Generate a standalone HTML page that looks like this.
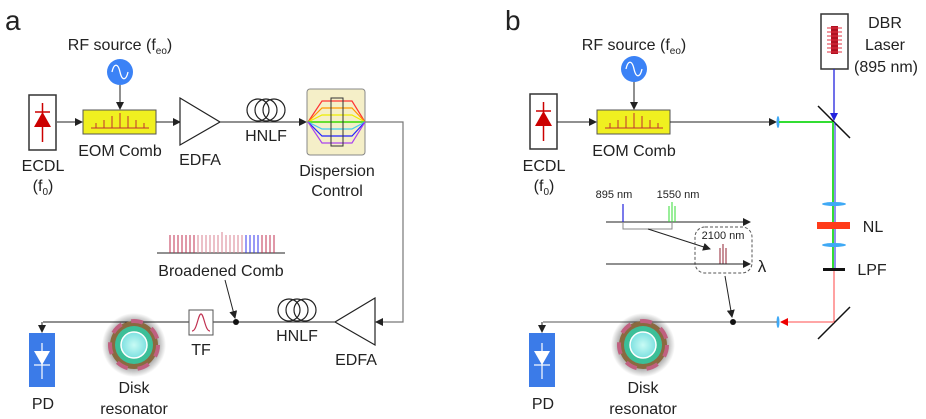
<!DOCTYPE html>
<html><head><meta charset="utf-8"><style>
html,body{margin:0;padding:0;background:#fff;}
svg{display:block;}
text{font-family:"Liberation Sans",sans-serif;fill:#222;}
</style></head><body>
<svg width="926" height="419" viewBox="0 0 926 419" xmlns="http://www.w3.org/2000/svg">
<defs>
<marker id="ar" markerWidth="8" markerHeight="8" refX="7" refY="4" orient="auto" markerUnits="userSpaceOnUse"><path d="M0,0 L8,4 L0,8 z" fill="#222"/></marker>
<marker id="arr" markerWidth="8" markerHeight="8" refX="7" refY="4" orient="auto" markerUnits="userSpaceOnUse"><path d="M0,0 L8,4 L0,8 z" fill="#e00"/></marker>
<marker id="arb" markerWidth="8" markerHeight="8" refX="7" refY="4" orient="auto" markerUnits="userSpaceOnUse"><path d="M0,0 L8,4 L0,8 z" fill="#22d"/></marker>
<radialGradient id="glow"><stop offset="0.6" stop-color="#000" stop-opacity="0.5"/><stop offset="1" stop-color="#000" stop-opacity="0"/></radialGradient>
<radialGradient id="inner"><stop offset="0" stop-color="#c8fbf5"/><stop offset="1" stop-color="#7de0e0"/></radialGradient>
<g id="ecdl"><rect x="0" y="0" width="27" height="55" fill="#fff" stroke="#333" stroke-width="1.5"/>
<line x1="13.5" y1="8" x2="13.5" y2="47" stroke="#c00" stroke-width="1.5"/><line x1="6" y1="17" x2="21" y2="17" stroke="#c00" stroke-width="1.5"/><path d="M5,32 L22,32 L13.5,17 z" fill="#c00"/></g>
<g id="eom"><rect x="0" y="0" width="73" height="24" fill="#f0f020" stroke="#555" stroke-width="1"/>
<g stroke="#c03030" stroke-width="1"><line x1="8" y1="18" x2="66" y2="18"/><line x1="13" y1="18" x2="13" y2="13"/><line x1="21" y1="18" x2="21" y2="10"/><line x1="29" y1="18" x2="29" y2="6"/><line x1="37" y1="18" x2="37" y2="3"/><line x1="45" y1="18" x2="45" y2="6"/><line x1="53" y1="18" x2="53" y2="10"/><line x1="61" y1="18" x2="61" y2="13"/></g></g>
<g id="rf"><circle cx="0" cy="0" r="13" fill="#3b82f6"/><path d="M-8,0 C-6,-9 -2,-9 0,0 C2,9 6,9 8,0" fill="none" stroke="#fff" stroke-width="1.3"/></g>
<g id="pd"><rect x="0" y="0" width="26" height="54" fill="#3b7be8"/><path d="M5,18 L21,18 L13,32 z" fill="#fff"/><line x1="13" y1="10" x2="13" y2="46" stroke="#fff" stroke-width="1.2"/><line x1="5" y1="32" x2="21" y2="32" stroke="#fff" stroke-width="1.2"/></g>
<g id="disk"><circle cx="0" cy="0" r="32" fill="url(#glow)"/><circle cx="0" cy="0" r="24" fill="#8a6a40"/><circle cx="0" cy="0" r="24" fill="none" stroke="#c06080" stroke-width="4" stroke-dasharray="12 10"/><circle cx="0" cy="0" r="19" fill="#3cbf98"/><circle cx="0" cy="0" r="13" fill="url(#inner)" stroke="#fff" stroke-width="1.5"/></g>
<g id="coil" fill="none" stroke="#222" stroke-width="1.2"><circle cx="0" cy="0" r="11"/><circle cx="8" cy="0" r="11"/><circle cx="16" cy="0" r="11"/></g>
</defs>

<!-- Panel a -->
<text x="5" y="30" font-size="28">a</text>
<text x="120" y="50" font-size="16" text-anchor="middle">RF source (f<tspan font-size="10" dy="4">eo</tspan><tspan dy="-4">)</tspan></text>
<use href="#rf" x="120" y="72"/>
<line x1="120" y1="85" x2="120" y2="109" stroke="#222" marker-end="url(#ar)"/>
<use href="#ecdl" x="29" y="95"/>
<text x="43" y="171" font-size="16" text-anchor="middle">ECDL</text>
<text x="43" y="191" font-size="16" text-anchor="middle">(f<tspan font-size="10" dy="4">0</tspan><tspan dy="-4">)</tspan></text>
<line x1="57" y1="122" x2="82" y2="122" stroke="#222" marker-end="url(#ar)"/>
<use href="#eom" x="83" y="110"/>
<text x="120" y="156" font-size="16" text-anchor="middle">EOM Comb</text>
<line x1="156" y1="122" x2="180" y2="122" stroke="#222" marker-end="url(#ar)"/>
<path d="M180,98 L220,122 L180,145 z" fill="#fff" stroke="#222" stroke-width="1.2"/>
<text x="200" y="165" font-size="16" text-anchor="middle">EDFA</text>
<line x1="220" y1="122" x2="306" y2="122" stroke="#222" marker-end="url(#ar)"/>
<use href="#coil" x="258" y="110"/>
<text x="266" y="141" font-size="16" text-anchor="middle">HNLF</text>
<rect x="307" y="89" width="58" height="66" rx="3" fill="#f5efc8" stroke="#888"/>
<g fill="none" stroke-width="1.2">
<path d="M308,122 L322,101 L352,101 L365,122" stroke="#f33"/>
<path d="M308,122 L322,108 L352,108 L365,122" stroke="#f90"/>
<path d="M308,122 L322,115 L352,115 L365,122" stroke="#ee0"/>
<path d="M308,122 L365,122" stroke="#6d3" stroke-width="2"/>
<path d="M308,122 L322,129 L352,129 L365,122" stroke="#4ce"/>
<path d="M308,122 L322,136 L352,136 L365,122" stroke="#22f"/>
<path d="M308,122 L322,143 L352,143 L365,122" stroke="#a4e"/>
</g>
<rect x="331" y="98" width="12" height="48" fill="none" stroke="#333"/>
<text x="337" y="176" font-size="16" text-anchor="middle">Dispersion</text>
<text x="337" y="196" font-size="16" text-anchor="middle">Control</text>
<polyline points="365,122 403,122 403,322 376,322" fill="none" stroke="#777" stroke-width="1.2" marker-end="url(#ar)"/>
<path d="M375,298 L335,322 L375,345 z" fill="#fff" stroke="#222" stroke-width="1.2"/>
<text x="356" y="365" font-size="16" text-anchor="middle">EDFA</text>
<line x1="335" y1="322" x2="43" y2="322" stroke="#222"/>
<line x1="42" y1="322" x2="42" y2="332" stroke="#222" marker-end="url(#ar)"/>
<use href="#coil" x="289" y="310"/>
<text x="297" y="341" font-size="16" text-anchor="middle">HNLF</text>
<circle cx="236" cy="322" r="3" fill="#111"/>
<rect x="189" y="310" width="24" height="25" fill="#fff" stroke="#555"/>
<path d="M192,331 C197,331 198,314 201,314 C204,314 205,331 210,331" fill="none" stroke="#c03050" stroke-width="1.2"/>
<text x="201" y="355" font-size="16" text-anchor="middle">TF</text>
<use href="#pd" x="29" y="333"/>
<text x="43" y="409" font-size="16" text-anchor="middle">PD</text>
<use href="#disk" x="134" y="345"/>
<text x="134" y="393" font-size="16" text-anchor="middle">Disk</text>
<text x="134" y="414" font-size="16" text-anchor="middle">resonator</text>
<line x1="157" y1="253" x2="285" y2="253" stroke="#222"/>
<g stroke-width="1">
<path d="M170,253V235M174,253V235M178,253V235M182,253V235M186,253V235M190,253V235M194,253V235" stroke="#c03050"/>
<path d="M198,253V235M202,253V235M206,253V235M210,253V235M214,253V235M218,253V235M222,253V232M226,253V235M230,253V235M234,253V235M238,253V235M242,253V235" stroke="#d88090"/>
<path d="M246,253V235M250,253V235M254,253V235M258,253V235" stroke="#33e"/>
<path d="M262,253V235M266,253V235M270,253V235M274,253V235" stroke="#c03050"/>
</g>
<text x="221" y="276" font-size="16" text-anchor="middle">Broadened Comb</text>
<line x1="225" y1="280" x2="235" y2="318" stroke="#222" marker-end="url(#ar)"/>

<!-- Panel b -->
<text x="505" y="30" font-size="28">b</text>
<text x="634" y="50" font-size="16" text-anchor="middle">RF source (f<tspan font-size="10" dy="4">eo</tspan><tspan dy="-4">)</tspan></text>
<use href="#rf" x="634" y="69"/>
<line x1="634" y1="82" x2="634" y2="109" stroke="#222" marker-end="url(#ar)"/>
<use href="#ecdl" x="530" y="94"/>
<text x="544" y="171" font-size="16" text-anchor="middle">ECDL</text>
<text x="544" y="191" font-size="16" text-anchor="middle">(f<tspan font-size="10" dy="4">0</tspan><tspan dy="-4">)</tspan></text>
<line x1="557" y1="122" x2="596" y2="122" stroke="#222" marker-end="url(#ar)"/>
<use href="#eom" x="597" y="110"/>
<text x="634" y="156" font-size="16" text-anchor="middle">EOM Comb</text>
<line x1="670" y1="122" x2="776" y2="122" stroke="#222" marker-end="url(#ar)"/>
<ellipse cx="778" cy="122" rx="1.5" ry="6" fill="#3fa9f5"/>
<line x1="779" y1="122" x2="834" y2="122" stroke="#3d3" stroke-width="2"/>
<rect x="821" y="14" width="27" height="55" fill="#fff" stroke="#333" stroke-width="1.5"/>
<rect x="831" y="26" width="7" height="28" fill="#b01020"/>
<g stroke="#e03040" stroke-width="1"><path d="M827,28H842M827,32H842M827,36H842M827,40H842M827,44H842M827,48H842M827,52H842"/></g>
<text x="885" y="28" font-size="16" text-anchor="middle">DBR</text>
<text x="885" y="50" font-size="16" text-anchor="middle">Laser</text>
<text x="886" y="72" font-size="16" text-anchor="middle">(895 nm)</text>
<line x1="834" y1="69" x2="834" y2="120" stroke="#22d" stroke-width="1.3" marker-end="url(#arb)"/>
<line x1="818" y1="106" x2="850" y2="138" stroke="#111" stroke-width="1.5"/>
<line x1="833" y1="122" x2="833" y2="270" stroke="#3d3" stroke-width="2"/>
<line x1="835" y1="122" x2="835" y2="270" stroke="#22d" stroke-width="1"/>
<ellipse cx="834" cy="204" rx="12" ry="2" fill="#3fa9f5"/>
<rect x="817" y="222" width="33" height="7" fill="#ff3b1a"/>
<ellipse cx="834" cy="245" rx="12" ry="2" fill="#3fa9f5"/>
<rect x="823" y="268" width="22" height="3" fill="#111"/>
<text x="873" y="232" font-size="16" text-anchor="middle">NL</text>
<text x="872" y="275" font-size="16" text-anchor="middle">LPF</text>
<line x1="834" y1="271" x2="834" y2="322" stroke="#f44" stroke-width="1"/>
<line x1="818" y1="339" x2="850" y2="307" stroke="#111" stroke-width="1.5"/>
<line x1="834" y1="322" x2="781" y2="322" stroke="#f88" stroke-width="1.5" marker-end="url(#arr)"/>
<ellipse cx="778" cy="322" rx="1.5" ry="6" fill="#3fa9f5"/>
<line x1="777" y1="322" x2="543" y2="322" stroke="#777" stroke-width="1.2"/>
<line x1="542" y1="322" x2="542" y2="332" stroke="#222" marker-end="url(#ar)"/>
<circle cx="733" cy="322" r="3" fill="#111"/>
<use href="#pd" x="529" y="333"/>
<text x="543" y="409" font-size="16" text-anchor="middle">PD</text>
<use href="#disk" x="643" y="345"/>
<text x="643" y="393" font-size="16" text-anchor="middle">Disk</text>
<text x="643" y="414" font-size="16" text-anchor="middle">resonator</text>
<text x="614" y="198" font-size="11" text-anchor="middle">895 nm</text>
<text x="678" y="198" font-size="11" text-anchor="middle">1550 nm</text>
<line x1="606" y1="222" x2="750" y2="222" stroke="#222" marker-end="url(#ar)"/>
<line x1="623" y1="204" x2="623" y2="222" stroke="#22d" stroke-width="1.2"/>
<path d="M669,222V206M672,222V202M675,222V206" stroke="#3d3" stroke-width="1"/>
<polyline points="623,223 623,229 672,229 672,223" fill="none" stroke="#888"/>
<line x1="648" y1="229" x2="710" y2="249" stroke="#222" marker-end="url(#ar)"/>
<rect x="695" y="227" width="57" height="46" rx="10" fill="none" stroke="#555" stroke-dasharray="3 2"/>
<text x="723" y="239" font-size="11" text-anchor="middle">2100 nm</text>
<path d="M720,264V248M723,264V244M726,264V248" stroke="#902030" stroke-width="1"/>
<line x1="606" y1="264" x2="750" y2="264" stroke="#222" marker-end="url(#ar)"/>
<text x="762" y="272" font-size="17" text-anchor="middle">λ</text>
<line x1="725" y1="276" x2="732" y2="317" stroke="#222" marker-end="url(#ar)"/>
</svg>
</body></html>
